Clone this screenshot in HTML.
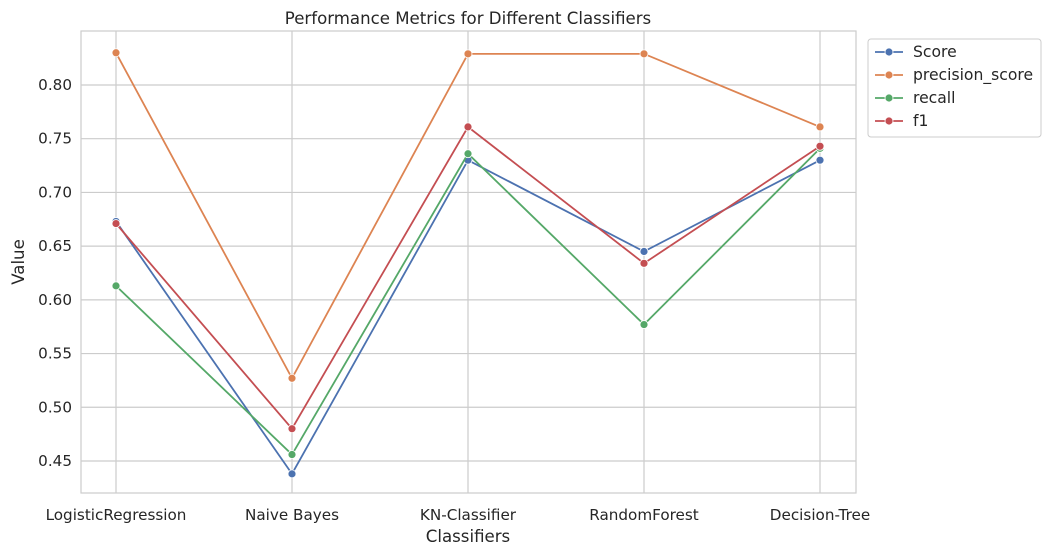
<!DOCTYPE html>
<html><head><meta charset="utf-8">
<style>
body{margin:0;background:#fff;font-family:"DejaVu Sans","Liberation Sans",sans-serif;}
svg text{font-family:"DejaVu Sans","Liberation Sans",sans-serif;fill:#262626;}
</style></head>
<body>
<svg id="chart" width="1051" height="556" xmlns="http://www.w3.org/2000/svg">
<rect x="0" y="0" width="1051" height="556" fill="#fff"/>
<g id="grid"></g>
<rect x="81" y="31" width="775" height="462" fill="none" stroke="#cccccc" stroke-width="1.2"/>
<g id="series"></g>
<g id="axes"></g>
<text x="468" y="24" text-anchor="middle" font-size="16.6">Performance Metrics for Different Classifiers</text>
<text x="468" y="542" text-anchor="middle" font-size="16.6">Classifiers</text>
<text transform="translate(24,262) rotate(-90)" text-anchor="middle" font-size="16.6">Value</text>
<g id="legend">
<rect x="868" y="39" width="173" height="98" fill="#fff" stroke="#cccccc" rx="3"/>
</g>
</svg>
<script>
const categories=["LogisticRegression","Naive Bayes","KN-Classifier","RandomForest","Decision-Tree"];
const seriesNames=["Score","precision_score","recall","f1"];
const scoreVals=[0.673,0.438,0.730,0.645,0.730];
const precisionVals=[0.830,0.527,0.829,0.829,0.761];
const recallVals=[0.613,0.456,0.736,0.577,0.741];
const f1Vals=[0.671,0.480,0.761,0.634,0.743];
const yTicks=[0.45,0.50,0.55,0.60,0.65,0.70,0.75,0.80];
const colors=["#4c72b0","#dd8452","#55a868","#c44e52"];
const allSeries=[scoreVals,precisionVals,recallVals,f1Vals];

const NS="http://www.w3.org/2000/svg";
const x=i=>116+i*176;
const y=v=>85+(0.80-v)/0.05*53.71;
function mk(tag,attrs,parent){const e=document.createElementNS(NS,tag);for(const k in attrs)e.setAttribute(k,attrs[k]);parent.appendChild(e);return e;}
const grid=document.getElementById('grid'),axes=document.getElementById('axes'),ser=document.getElementById('series'),leg=document.getElementById('legend');
yTicks.forEach(t=>{
 const l=mk('line',{x1:81,x2:856,y1:y(t),y2:y(t),stroke:'#cccccc','stroke-width':1.2},grid);
 
 
 const tx=mk('text',{x:72,y:y(t)+5,'text-anchor':'end','font-size':15.2},axes);
 tx.textContent=t.toFixed(2);
 
 
});
categories.forEach((c,i)=>{
 const l=mk('line',{x1:x(i),x2:x(i),y1:31,y2:493,stroke:'#cccccc','stroke-width':1.2},grid);
 
 
 const tx=mk('text',{x:x(i),y:520,'text-anchor':'middle','font-size':15.2},axes);
 tx.textContent=c;
 
 
});
allSeries.forEach((vals,s)=>{
 const g=mk('g',{},ser);
 
 
 const pl=mk('polyline',{points:vals.map((v,i)=>x(i)+','+y(v)).join(' '),fill:'none',stroke:colors[s],'stroke-width':1.8},g);
 
 
 vals.forEach((v,i)=>{
  const c=mk('circle',{cx:x(i),cy:y(v),r:4,fill:colors[s],stroke:'#fff','stroke-width':0.8},g);
  
  
 });
 const ly=52+s*23;
 const ll=mk('line',{x1:875,x2:903,y1:ly,y2:ly,stroke:colors[s],'stroke-width':1.8},leg);
 
 
 const lc=mk('circle',{cx:889,cy:ly,r:4,fill:colors[s],stroke:'#fff','stroke-width':0.8},leg);
 
 
 const lt=mk('text',{x:913,y:ly+5,'font-size':15.6},leg);
 lt.textContent=seriesNames[s];
 
 
});
</script>
</body></html>
